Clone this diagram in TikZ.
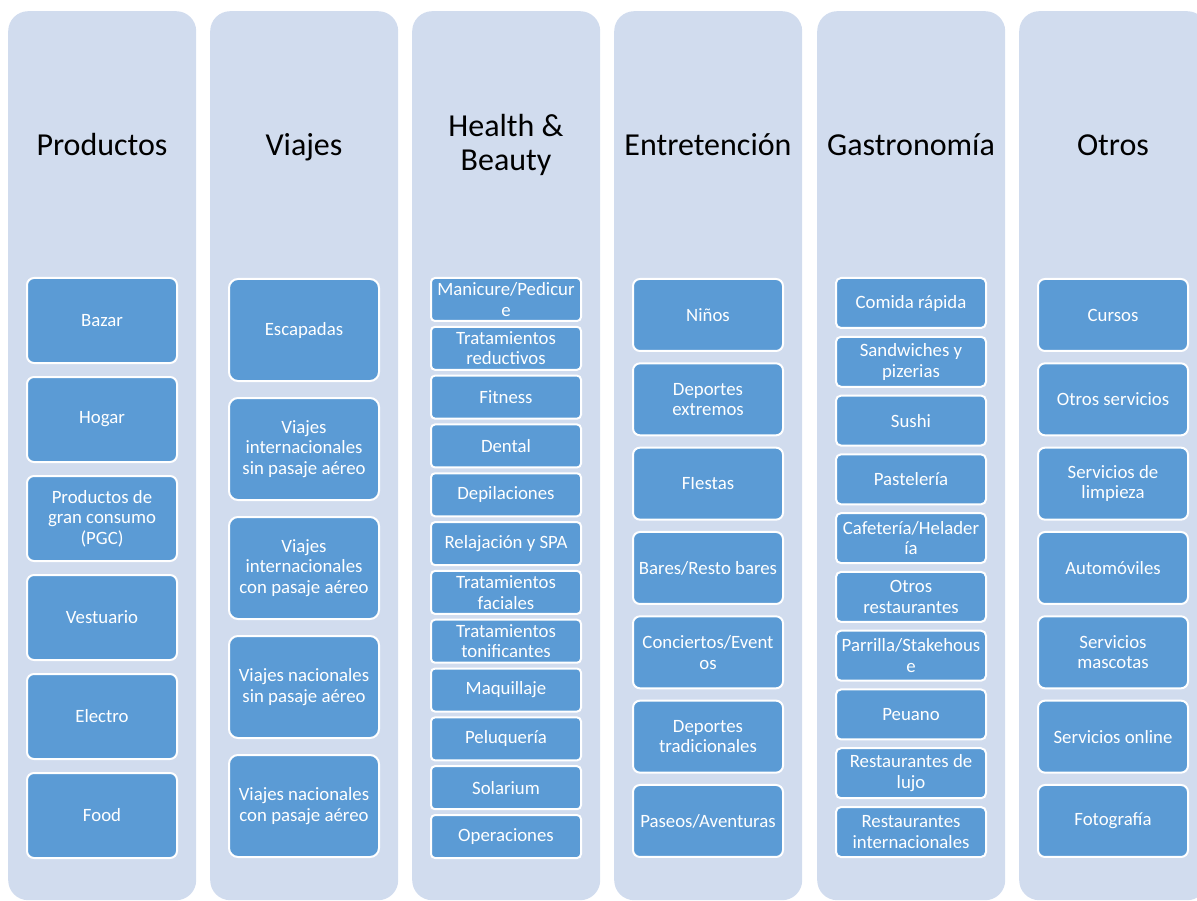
\documentclass[tikz,border=0pt]{standalone}
\usepackage{fontspec}
\setmainfont{Carlito}
\definecolor{colbg}{HTML}{D1DCEE}
\definecolor{itemfill}{HTML}{5B9BD5}
\begin{document}
\begin{tikzpicture}[x=1pt,y=-1pt,
  column/.style={fill=colbg, draw=none, rounded corners=20pt, minimum width=188pt, minimum height=889pt, anchor=north west, inner sep=0pt},
  header/.style={text=black, font=\fontsize{32}{34}\selectfont, align=center, inner sep=0pt},
  item/.style={fill=itemfill, draw=white, line width=2pt, rounded corners=7pt, minimum width=150pt, text=white, align=center, inner sep=1pt, font=\fontsize{18.8}{20.5}\selectfont}
]
\useasboundingbox (0,0) rectangle (1197,901);
\begin{scope}
\clip (0,0) rectangle (1197,901);
% columns
\node[column] (c1) at (8,11) {};
\node[column] (c2) at (210,11) {};
\node[column] (c3) at (412,11) {};
\node[column] (c4) at (614,11) {};
\node[column] (c5) at (817,11) {};
\node[column] (c6) at (1019,11) {};
\end{scope}
% headers
\node[header, anchor=base] (h1) at (102,156) {Productos};
\node[header, anchor=base] (h2) at (304,156) {Viajes};
\node[header] (h3) at (506,145) {Health \&\\Beauty};
\node[header, anchor=base] (h4) at (708,156) {Entretención};
\node[header, anchor=base] (h5) at (911,156) {Gastronomía};
\node[header, anchor=base] (h6) at (1113,156) {Otros};
% column 1
\foreach \t [count=\i] in {Bazar, Hogar, {Productos de\\gran consumo\\(PGC)}, Vestuario, Electro, Food}
  \node[item, minimum height=85pt] (p\i) at (102,{320.5+(\i-1)*99}) {\t};
% column 2
\foreach \t [count=\i] in {Escapadas, {Viajes\\internacionales\\sin pasaje aéreo}, {Viajes\\internacionales\\con pasaje aéreo}, {Viajes nacionales\\sin pasaje aéreo}, {Viajes nacionales\\con pasaje aéreo}}
  \node[item, minimum height=102pt, rounded corners=9pt] (v\i) at (304,{330+(\i-1)*119}) {\t};
% column 3
\foreach \t [count=\i] in {{Manicure/Pedicur\\e}, {Tratamientos\\reductivos}, Fitness, Dental, Depilaciones, {Relajación y SPA}, {Tratamientos\\faciales}, {Tratamientos\\tonificantes}, Maquillaje, Peluquería, Solarium, Operaciones}
  \node[item, minimum height=43pt, rounded corners=4pt, inner sep=0pt] (b\i) at (506,{299.5+(\i-1)*48.82}) {\t};
% column 4
\foreach \t [count=\i] in {Niños, {Deportes\\extremos}, FIestas, {Bares/Resto bares}, {Conciertos/Event\\os}, {Deportes\\tradicionales}, {Paseos/Aventuras}}
  \node[item, minimum height=72pt] (e\i) at (708,{315+(\i-1)*84.33}) {\t};
% column 5
\foreach \t [count=\i] in {{Comida rápida}, {Sandwiches y\\pizerias}, Sushi, Pastelería, {Cafetería/Helader\\ía}, {Otros\\restaurantes}, {Parrilla/Stakehous\\e}, Peuano, {Restaurantes de\\lujo}, {Restaurantes\\internacionales}}
  \node[item, minimum height=50pt, rounded corners=5pt, inner sep=0pt] (g\i) at (911,{303+(\i-1)*58.78}) {\t};
% column 6
\foreach \t [count=\i] in {Cursos, {Otros servicios}, {Servicios de\\limpieza}, Automóviles, {Servicios\\mascotas}, {Servicios online}, Fotografía}
  \node[item, minimum height=72pt] (o\i) at (1113,{315+(\i-1)*84.33}) {\t};
\end{tikzpicture}
\end{document}
